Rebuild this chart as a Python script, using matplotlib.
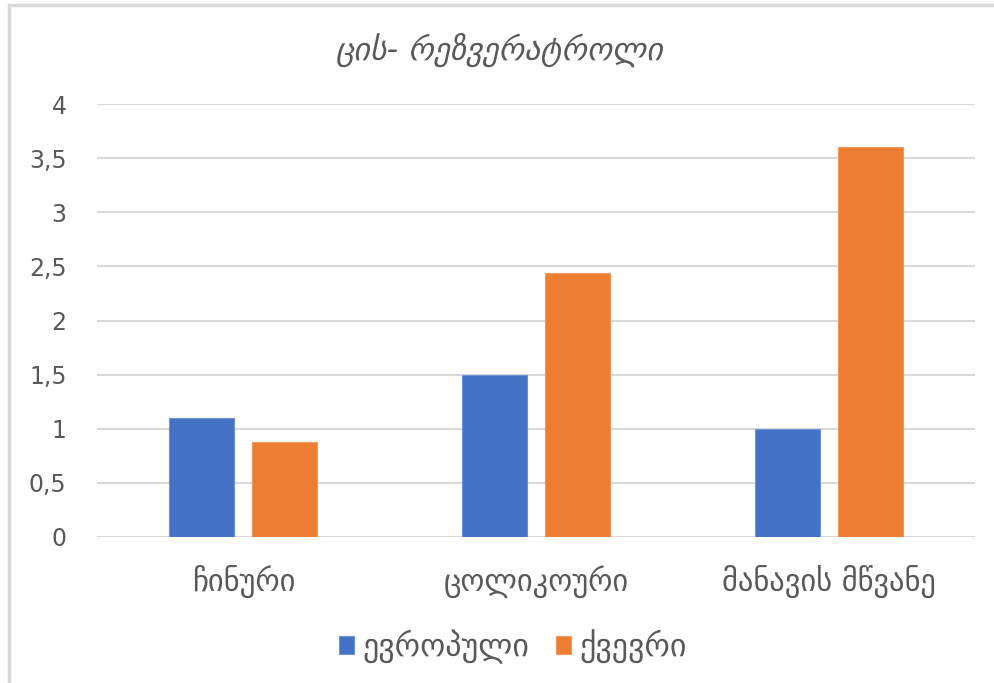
import matplotlib
matplotlib.use("Agg")
import matplotlib.pyplot as plt
from matplotlib.patches import Rectangle
import numpy as np

categories = ["ჩინური", "ცოლიკოური", "მანავის მწვანე"]
series_names = ["ევროპული", "ქვევრი"]
european = [1.1, 1.5, 1.0]
qvevri = [0.88, 2.44, 3.6]
y_ticks = [0, 0.5, 1, 1.5, 2, 2.5, 3, 3.5, 4]
y_tick_labels = ["0", "0,5", "1", "1,5", "2", "2,5", "3", "3,5", "4"]
title = "ცის- რეზვერატროლი"

BLUE = "#4472C4"
ORANGE = "#ED7D31"
TEXT = "#595959"
GRID = "#D9D9D9"

plt.rcParams["font.family"] = ["DejaVu Sans"]

fig = plt.figure(figsize=(9.95, 6.83), dpi=100)
ax = fig.add_axes([97 / 995, 1 - 537 / 683, (975 - 97) / 995, (537 - 104) / 683])

x = np.arange(len(categories))
width = 0.222
gap = 0.061
off = (width + gap) / 2
ax.bar(x - off, european, width, color=BLUE, edgecolor="#6E93D6", linewidth=0.8,
       label=series_names[0], zorder=3)
ax.bar(x + off, qvevri, width, color=ORANGE, edgecolor="#F29A5E", linewidth=0.8,
       label=series_names[1], zorder=3)

ax.set_xlim(-0.5, len(categories) - 0.5)
ax.set_ylim(0, 4)
ax.set_yticks(y_ticks)
ax.set_yticklabels(y_tick_labels)
ax.set_xticks(x)
ax.set_xticklabels(categories)
ax.tick_params(axis="y", length=0, pad=22, labelsize=17, labelcolor=TEXT)
ax.tick_params(axis="x", length=0, pad=20, labelsize=22, labelcolor=TEXT)
ax.yaxis.grid(True, color=GRID, linewidth=1.5, zorder=0)
for s in ax.spines.values():
    s.set_visible(False)

fig.text(500 / 995, 1 - 50 / 683, title, ha="center", va="center", fontsize=23,
         style="italic", color=TEXT)

leg = fig.legend(loc="center", bbox_to_anchor=(513 / 995, 1 - 647 / 683), ncol=2,
                 frameon=False, handlelength=0.47, handleheight=0.47,
                 handletextpad=0.25, columnspacing=0.85, prop={"size": 23})
for t in leg.get_texts():
    t.set_color(TEXT)

# chart-area border
fig.patches.append(Rectangle((9 / 995, -0.1), 1.2, 1 - 5 / 683 + 0.1,
                             transform=fig.transFigure, fill=False,
                             edgecolor=GRID, linewidth=2.5, zorder=0))

fig.savefig("out.png", dpi=100)
